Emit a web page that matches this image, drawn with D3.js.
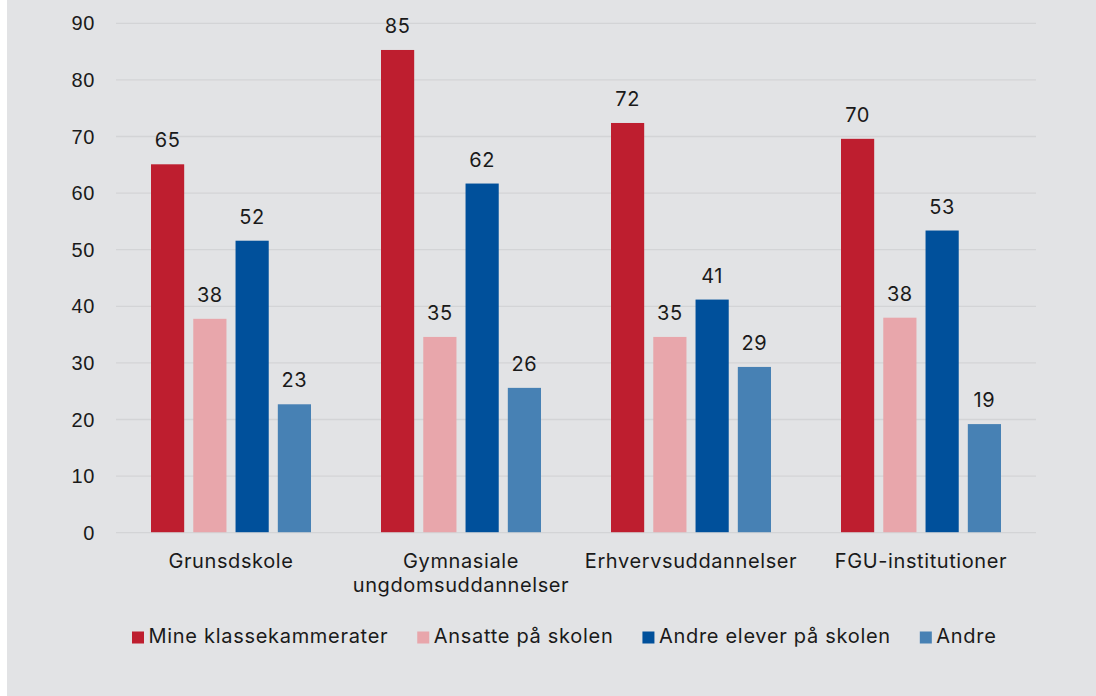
<!DOCTYPE html>
<html>
<head>
<meta charset="utf-8">
<script src="https://cdn.jsdelivr.net/npm/d3@7"></script>
<style>
  html, body { margin: 0; padding: 0; background: #ffffff; }
  svg { display: block; font-family: Inter, "Noto Sans", sans-serif; }
  text { letter-spacing: 0.6px; }
  .legend text { letter-spacing: 0.7px; }
</style>
</head>
<body>
<svg id="chart" width="1096" height="696"></svg>
<script>
  var categories = [["Grunsdskole"], ["Gymnasiale", "ungdomsuddannelser"], ["Erhvervsuddannelser"], ["FGU-institutioner"]];
  var seriesNames = ["Mine klassekammerater", "Ansatte på skolen", "Andre elever på skolen", "Andre"];
  var seriesColors = ["#be1e2f", "#e8a6ab", "#00509b", "#4781b4"];
  var mineKlassekammerater = [65.0, 85.2, 72.3, 69.5];
  var ansattePaaSkolen = [37.7, 34.5, 34.5, 37.9];
  var andreEleverPaaSkolen = [51.5, 61.6, 41.1, 53.3];
  var andre = [22.6, 25.5, 29.2, 19.1];
  var yTicks = [0, 10, 20, 30, 40, 50, 60, 70, 80, 90];

  var series = [mineKlassekammerater, ansattePaaSkolen, andreEleverPaaSkolen, andre];

  var svg = d3.select('#chart');
  var margin = {left: 116, right: 60, top: 22.8, bottom: 163.8};
  var W = 1096, H = 696;
  var fs = '20px';

  svg.append('rect')
    .attr('x', 7).attr('y', 0)
    .attr('width', W - 7).attr('height', H)
    .attr('fill', '#e2e3e5');

  var x0 = d3.scaleBand()
    .domain(d3.range(categories.length))
    .range([margin.left, W - margin.right])
    .paddingInner(0).paddingOuter(0);

  var x1 = d3.scaleBand()
    .domain(d3.range(series.length))
    .range([35, x0.bandwidth() - 35])
    .paddingInner(0.215);

  var y = d3.scaleLinear()
    .domain([0, 90])
    .range([H - margin.bottom, margin.top]);

  // grid + y labels
  var yAxis = d3.axisLeft(y)
    .tickValues(yTicks)
    .tickSize(-(W - margin.left - margin.right))
    .tickPadding(21);

  var gy = svg.append('g')
    .attr('transform', 'translate(' + margin.left + ',0)')
    .call(yAxis);
  gy.select('.domain').remove();
  gy.selectAll('.tick line').attr('stroke', '#d3d4d6').attr('stroke-width', 1.3);
  gy.selectAll('.tick text')
    .attr('fill', '#1a1a1a')
    .style('font-size', fs)
    .attr('dy', '0.35em');

  // bars
  var groups = svg.append('g').selectAll('g')
    .data(categories)
    .join('g')
    .attr('transform', function(d, i) { return 'translate(' + x0(i) + ',0)'; });

  groups.each(function(c, ci) {
    var g = d3.select(this);
    series.forEach(function(s, si) {
      g.append('rect')
        .attr('x', x1(si))
        .attr('y', y(s[ci]))
        .attr('width', x1.bandwidth())
        .attr('height', y(0) - y(s[ci]))
        .attr('fill', seriesColors[si]);
      g.append('text')
        .attr('x', x1(si) + x1.bandwidth() / 2)
        .attr('y', y(s[ci]) - 17)
        .attr('text-anchor', 'middle')
        .attr('fill', '#1a1a1a')
        .style('font-size', fs)
        .text(Math.round(s[ci]));
    });
    var t = g.append('text')
      .attr('x', x0.bandwidth() / 2)
      .attr('y', 568)
      .attr('text-anchor', 'middle')
      .attr('fill', '#1a1a1a')
      .style('font-size', fs);
    c.forEach(function(line, li) {
      t.append('tspan')
        .attr('x', x0.bandwidth() / 2)
        .attr('dy', li === 0 ? 0 : 24)
        .text(line);
    });
  });

  // legend
  var legend = svg.append('g').attr('class', 'legend');
  var lx = 132;
  seriesNames.forEach(function(name, i) {
    legend.append('rect')
      .attr('x', lx).attr('y', 631.5)
      .attr('width', 12).attr('height', 12)
      .attr('fill', seriesColors[i]);
    var txt = legend.append('text')
      .attr('x', lx + 16.5)
      .attr('y', 643)
      .attr('fill', '#1a1a1a')
      .style('font-size', fs)
      .text(name);
    lx += 16.5 + txt.node().getComputedTextLength() + 29;
  });
</script>
</body>
</html>
